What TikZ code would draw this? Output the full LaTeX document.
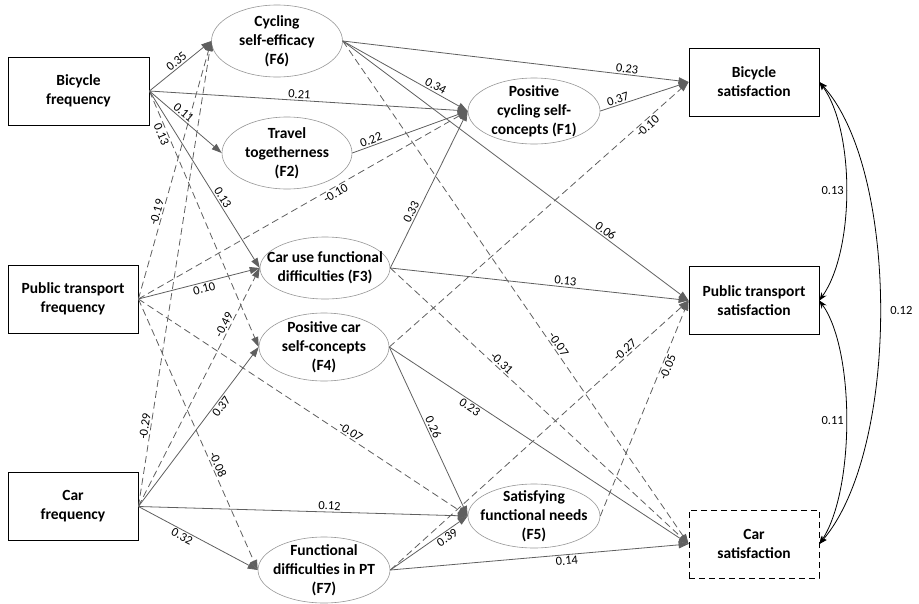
\documentclass[tikz,border=0pt]{standalone}
\usepackage{fontspec}
\setmainfont{Carlito}
\usetikzlibrary{shapes.geometric,arrows.meta}
\definecolor{edgegray}{RGB}{95,95,95}
\definecolor{ellgray}{RGB}{150,150,150}
\begin{document}
\begin{tikzpicture}[x=1pt,y=-1pt,
  box/.style={draw=black, line width=0.8pt, minimum width=130pt, minimum height=68pt, inner sep=0pt, align=center, font=\bfseries\fontsize{15.5}{19}\selectfont},
  ell/.style={ellipse, draw=ellgray, line width=0.6pt, minimum width=131pt, minimum height=68pt, inner sep=-40pt, align=center, font=\bfseries\fontsize{15.5}{19}\selectfont},
  edgep/.style={draw=edgegray, line width=0.8pt, -{Triangle[length=10pt,width=7pt]}},
  edgen/.style={edgep, dash pattern=on 7pt off 4pt},
  lab/.style={font=\fontsize{12.5}{14}\selectfont, sloped, inner sep=1.5pt, text=black},
  cov/.style={draw=black, line width=0.8pt, {Stealth[length=8pt,width=6pt]}-{Stealth[length=8pt,width=6pt]}},
]
\useasboundingbox (0,0) rectangle (919,603);

% observed variables
\node[box, minimum width=141pt] (BF) at (78.5,91) {Bicycle\\frequency};
\node[box] (PT) at (73,299) {Public transport\\frequency};
\node[box] (CF) at (73,506.5) {Car\\frequency};
\node[box] (BS) at (754,82) {Bicycle\\satisfaction};
\node[box] (PTS) at (754,300.5) {Public transport\\satisfaction};
\node[box, dash pattern=on 6pt off 4pt] (CS) at (754,544) {Car\\satisfaction};

% latent factors
\node[ell, minimum height=72pt] (F6) at (277,41) {Cycling\\self-efficacy\\(F6)};
\node[ell, minimum width=130pt, minimum height=72pt] (F2) at (287,153) {Travel\\togetherness\\(F2)};
\node[ell, minimum width=132pt, minimum height=66pt] (F1) at (534,111) {Positive\\cycling self-\\concepts (F1)};
\node[ell, minimum width=130pt, minimum height=62pt] (F3) at (325,268) {Car use functional\\difficulties (F3)};
\node[ell, minimum width=130pt, minimum height=68pt] (F4) at (324,347) {Positive car\\self-concepts\\(F4)};
\node[ell, minimum width=132pt, minimum height=64pt] (F5) at (534,516) {Satisfying\\functional needs\\(F5)};
\node[ell, minimum width=132pt, minimum height=66pt] (F7) at (324,570) {Functional\\difficulties in PT\\(F7)};

% paths from Bicycle frequency
\draw[edgep] (BF.east) -- node[lab, above, pos=0.5] {0.35} (F6.west);
\draw[edgep] (BF.east) -- node[lab, above, pos=0.47] {0.21} (F1.west);
\draw[edgep] (BF.east) -- node[lab, above, pos=0.42] {0.11} (F2.west);
\draw[edgep] (BF.east) -- node[lab, above, pos=0.62] {0.13} (F3.west);
\draw[edgen] (BF.east) -- node[lab, below, pos=0.16] {0.13} (F4.west);

% paths from Public transport frequency
\draw[edgen] (PT.east) -- node[lab, above, pos=0.33] {-0.19} (F6.west);
\draw[edgen] (PT.east) -- node[lab, below, pos=0.59] {-0.10} (F1.west);
\draw[edgep] (PT.east) -- node[lab, below, pos=0.53] {0.10} (F3.west);
\draw[edgen] (PT.east) -- node[lab, above, pos=0.635] {-0.07} (F5.west);
\draw[edgen] (PT.east) -- node[lab, above, pos=0.62] {-0.08} (F7.west);

% paths from Car frequency
\draw[edgen] (CF.east) -- node[lab, above, pos=0.17] {-0.29} (F6.west);
\draw[edgen] (CF.east) -- node[lab, above, pos=0.75] {-0.49} (F3.west);
\draw[edgep] (CF.east) -- node[lab, below, pos=0.65] {0.37} (F4.west);
\draw[edgep] (CF.east) -- node[lab, above, pos=0.58] {0.12} (F5.west);
\draw[edgep] (CF.east) -- node[lab, below, pos=0.39] {0.32} (F7.west);

% paths from factors
\draw[edgep] (F6.east) -- node[lab, above, pos=0.82] {0.23} (BS.west);
\draw[edgep] (F6.east) -- node[lab, above, pos=0.72] {0.34} (F1.west);
\draw[edgep] (F6.east) -- node[lab, above, pos=0.75] {0.06} (PTS.west);
\draw[edgen] (F6.east) -- node[lab, above, pos=0.61] {-0.07} (CS.west);
\draw[edgep] (F2.east) -- node[lab, above, pos=0.18] {0.22} (F1.west);
\draw[edgep] (F3.east) -- node[lab, above, pos=0.34] {0.33} (F1.west);
\draw[edgep] (F3.east) -- node[lab, above, pos=0.585] {0.13} (PTS.west);
\draw[edgen] (F3.east) -- node[lab, above, pos=0.36] {-0.31} (CS.west);
\draw[edgen] (F4.east) -- node[lab, below, pos=0.85] {-0.10} (BS.west);
\draw[edgep] (F4.east) -- node[lab, above, pos=0.49] {0.26} (F5.west);
\draw[edgep] (F4.east) -- node[lab, below, pos=0.28] {0.23} (CS.west);
\draw[edgep] (F7.east) -- node[lab, below, pos=0.69] {0.39} (F5.west);
\draw[edgep] (F7.east) -- node[lab, below, pos=0.59] {0.14} (CS.west);
\draw[edgen] (F7.east) -- node[lab, above, pos=0.80] {-0.27} (PTS.west);
\draw[edgen] (F5.east) -- node[lab, below, pos=0.70] {-0.05} (PTS.west);
\draw[edgep] (F1.east) -- node[lab, above, pos=0.22] {0.37} (BS.west);

% covariances
\draw[cov] (BS.east) .. controls (855,130) and (855,250) .. node[left, font=\fontsize{12.5}{14}\selectfont, inner sep=2pt] {0.13} (PTS.east);
\draw[cov] (PTS.east) .. controls (855,350) and (855,490) .. node[left, font=\fontsize{12.5}{14}\selectfont, inner sep=2pt] {0.11} (CS.east);
\draw[cov] (BS.east) .. controls (900,170) and (900,450) .. node[right, font=\fontsize{12.5}{14}\selectfont, inner sep=2pt, xshift=8pt] {0.12} (CS.east);
\end{tikzpicture}
\end{document}
